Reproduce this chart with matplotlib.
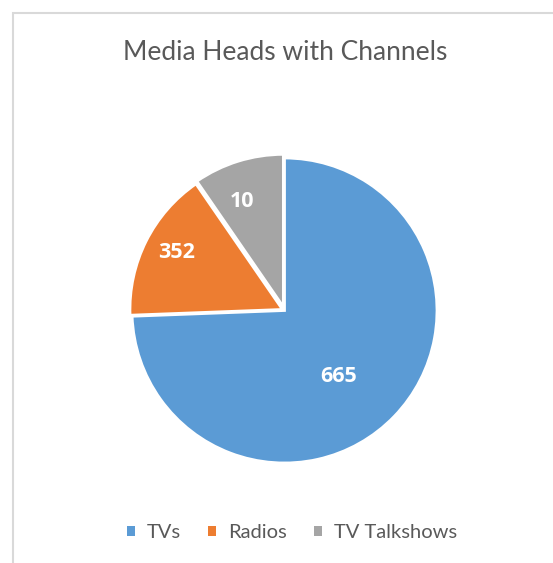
import numpy as np
import matplotlib
matplotlib.use("Agg")
import matplotlib.pyplot as plt
from matplotlib.patches import Rectangle, Patch

plt.rcParams['font.family'] = ['Lato', 'DejaVu Sans']

# data
categories = ["TVs", "Radios", "TV Talkshows"]
label_values = [665, 352, 10]
# slice sizes as drawn in the reference (they do not follow the labels)
slice_shares = [74.4, 16.0, 9.6]
colors = ["#5b9bd5", "#ed7d31", "#a5a5a5"]

W, H = 553, 563
fig = plt.figure(figsize=(W / 100, H / 100), dpi=100)

# chart frame (left and top edges visible)
fig.patches.append(Rectangle((13 / W, -0.1), 1.2, (H - 13) / H + 0.1,
                             transform=fig.transFigure, fill=False,
                             edgecolor="#d9d9d9", linewidth=1.5))

fig.text(285 / W, 1 - 52 / H, "Media Heads with Channels", ha="center",
         va="center", fontsize=19, color="#595959")

# pie axes
cx, cy, r = 284.5, 310.5, 152.5
lim = 1.2
side = 2 * lim * r
ax = fig.add_axes([(cx - side / 2) / W, (H - cy - side / 2) / H, side / W, side / H])

wedges, _ = ax.pie(slice_shares, colors=colors, startangle=90, counterclock=False,
                   explode=[0, 0.015, 0.025],
                   wedgeprops=dict(edgecolor="white", linewidth=2))
ax.set_xlim(-lim, lim)
ax.set_ylim(-lim, lim)
ax.set_aspect("equal")
ax.axis("off")

# label placement: distance from centre and angle nudge (degrees)
label_dist = [0.56, 0.80, 0.77]
label_nudge = [-7, -1.5, 4]
for w, val, d, nd in zip(wedges, label_values, label_dist, label_nudge):
    ang = np.deg2rad((w.theta1 + w.theta2) / 2 + nd)
    ax.text(d * np.cos(ang), d * np.sin(ang), str(val), family=["Open Sans", "DejaVu Sans"],
            ha="center", va="center", color="white", fontsize=15.5, fontweight="bold")

handles = [Patch(facecolor=c, edgecolor="none") for c in colors]
fig.legend(handles, categories, loc="center", bbox_to_anchor=(292 / W, 1 - 533 / H),
           ncol=3, frameon=False, fontsize=14.5, labelcolor="#595959",
           handlelength=0.4, handleheight=0.4, handletextpad=0.6, columnspacing=1.35)

fig.savefig("out.png", dpi=100, facecolor="white")
